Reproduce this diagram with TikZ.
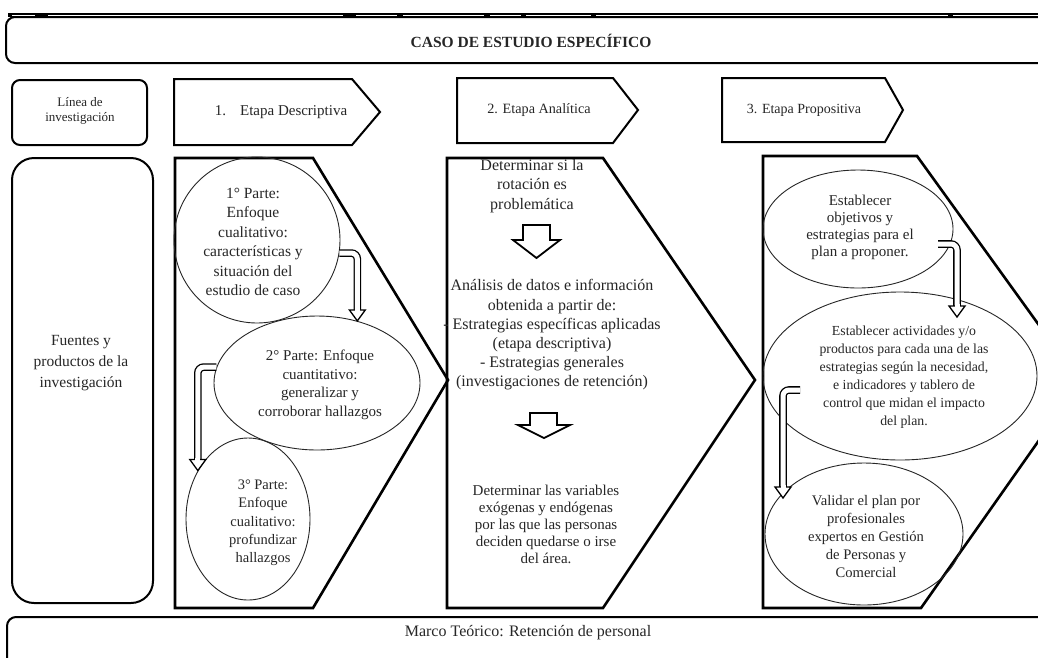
\documentclass[tikz,border=0pt]{standalone}
\usepackage{fontspec}
\setmainfont{Liberation Serif}
\usetikzlibrary{calc,shapes.geometric}

\tikzset{
  frame/.style={draw, line width=2pt, rounded corners=9pt},
  chev/.style={draw, line width=2pt, line join=miter},
  penta/.style={draw, line width=2.6pt, line join=miter},
  oval/.style={ellipse, draw=black!85, line width=0.9pt, inner sep=0pt},
  txt/.style={align=center, text=black!85, inner sep=0pt, font=\fontsize{15}{18.5}\selectfont},
  shaft/.style={draw, double=white, double distance=5pt, line width=1.3pt, rounded corners=6pt},
  tiphead/.style={draw, fill=white, line width=1.3pt, line join=miter},
  blockarrow/.style={draw, fill=white, line width=1.8pt, line join=miter},
  hollowtip/.pic={
    \draw[tiphead] (-8,-11) -- (0,0) -- (8,-11) -- cycle;
    \draw[white, line width=5pt] (0,-13) -- (0,-10);
  }
}

\begin{document}
\begin{tikzpicture}[x=1pt,y=-1pt]
\clip (0,0) rectangle (1038,657);
\fill[white] (0,0) rectangle (1038,657);

% double table rule along the top edge, broken at the cell joints
\fill[black] (8,12.8) rectangle (1040,17.2);
\foreach \xa/\xb in {12/35, 48/343, 356/397, 403/484, 490/521, 526/591, 596/948, 953/1040}
  \draw[white, line width=0.9pt] (\xa,15) -- (\xb,15);

% title band
\draw[frame] (6,17) rectangle (1060,63);
\node[txt, font=\bfseries\fontsize{15.5}{17}\selectfont] (title) at (531,41) {CASO DE ESTUDIO ESPECÍFICO};

% left column
\draw[frame, rounded corners=8pt] (12,80) rectangle (147,145);
\node[txt, font=\fontsize{13}{15}\selectfont] (linea) at (80,111) {Línea de\\investigación};
\draw[frame, rounded corners=22pt] (12,158) rectangle (153,603);
\node[txt, font=\fontsize{15.5}{21}\selectfont] (fuentes) at (81,363) {Fuentes y\\productos de la\\investigación};

% stage headers
\draw[chev] (174,79) -- (352,79) -- (380,112) -- (352,145) -- (174,145) -- cycle;
\node[txt] (etapa1) at (281,112) {1.\hspace{14pt}Etapa Descriptiva};
\draw[chev] (457,78) -- (613,78) -- (638,110) -- (613,143) -- (457,143) -- cycle;
\node[txt, font=\fontsize{14.2}{17}\selectfont] (etapa2) at (539,110) {2. Etapa Analítica};
\draw[chev] (722,78) -- (885,78) -- (903,110) -- (885,142) -- (722,142) -- cycle;
\node[txt, font=\fontsize{14}{17}\selectfont] (etapa3) at (804,110) {3. Etapa Propositiva};

% stage bodies
\draw[penta] (175,158) -- (313,158) -- (448,380) -- (313,608) -- (175,608) -- cycle;
\draw[penta] (447,158) -- (603,158) -- (755,380) -- (603,608) -- (447,608) -- cycle;
\draw[penta] (763,156) -- (917,156) -- (1080,382) -- (921,608) -- (763,608) -- cycle;

% stage 1: three parts
\node[oval, minimum width=166pt, minimum height=166pt] (p1) at (257,240) {};
\node[txt, font=\fontsize{15.5}{19.4}\selectfont] (p1t) at ($(p1.center)+(-4,2)$) {1° Parte:\\Enfoque\\cualitativo:\\características y\\situación del\\estudio de caso};
\node[oval, minimum width=206pt, minimum height=134pt] (p2) at (317,383) {};
\node[txt] (p2t) at ($(p2.center)+(3,2)$) {2° Parte: Enfoque\\cuantitativo:\\generalizar y\\corroborar hallazgos};
\node[oval, minimum width=124pt, minimum height=162pt] (p3) at (248,519) {};
\node[txt, font=\fontsize{14.5}{18.3}\selectfont] (p3t) at ($(p3.center)+(15,4)$) {3° Parte:\\Enfoque\\cualitativo:\\profundizar\\hallazgos};

\coordinate (t12) at (p2.57);
\draw[shaft] (p1.-9) -| ($(t12)+(0,-11)$);
\pic at (t12) {hollowtip};
\coordinate (t23) at (p3.136);
\draw[shaft] (p2.171) -| ($(t23)+(0,-11)$);
\pic at (t23) {hollowtip};

% stage 2: analysis steps
\node[txt, font=\fontsize{16}{19.5}\selectfont] (q1) at (532,186) {Determinar si la\\rotación es\\problemática};
\draw[blockarrow] (523,225) -- (550,225) -- (550,240) -- (560,240) -- (536.5,258) -- (513,240) -- (523,240) -- cycle;
\node[txt, font=\fontsize{16}{19.2}\selectfont] (q2) at (552,335) {Análisis de datos e información\\obtenida a partir de:\\- Estrategias específicas aplicadas\\(etapa descriptiva)\\- Estrategias generales\\(investigaciones de retención)};
\draw[blockarrow] (530,413) -- (557,413) -- (557,425) -- (570,425) -- (544,438) -- (518,425) -- (530,425) -- cycle;
\node[txt, font=\fontsize{15}{17}\selectfont] (q3) at (546,524) {Determinar las variables\\exógenas y endógenas\\por las que las personas\\deciden quedarse o irse\\del área.};

% stage 3: proposal steps
\node[oval, minimum width=190pt, minimum height=118pt] (r1) at (858,229) {};
\node[txt, font=\fontsize{15}{17}\selectfont] (r1t) at (860,227) {Establecer\\objetivos y\\estrategias para el\\plan a proponer.};
\node[oval, minimum width=274pt, minimum height=168pt] (r2) at (900,376) {};
\node[txt, font=\fontsize{13.8}{18}\selectfont] (r2t) at (904,377) {Establecer actividades y/o\\productos para cada una de las\\estrategias según la necesidad,\\e indicadores y tablero de\\control que midan el impacto\\del plan.};
\node[oval, minimum width=198pt, minimum height=142pt] (r3) at (864,534) {};
\node[txt, font=\fontsize{14.6}{18}\selectfont] (r3t) at (866,536) {Validar el plan por\\profesionales\\expertos en Gestión\\de Personas y\\Comercial};

\coordinate (t45) at ($(r2.center)+(57,-59)$);
\draw[shaft] ($(r1.center)+(80,15)$) -| ($(t45)+(0,-11)$);
\pic at (t45) {hollowtip};
\coordinate (t56) at ($(r3.center)+(-81,-36)$);
\draw[shaft] ($(r2.center)+(-100,14)$) -| ($(t56)+(0,-11)$);
\pic at (t56) {hollowtip};

% theoretical frame band
\draw[frame] (7,617) rectangle (1060,680);
\node[txt, font=\fontsize{16}{18}\selectfont] (marco) at (528,633) {Marco Teórico: Retención de personal};
\end{tikzpicture}
\end{document}
